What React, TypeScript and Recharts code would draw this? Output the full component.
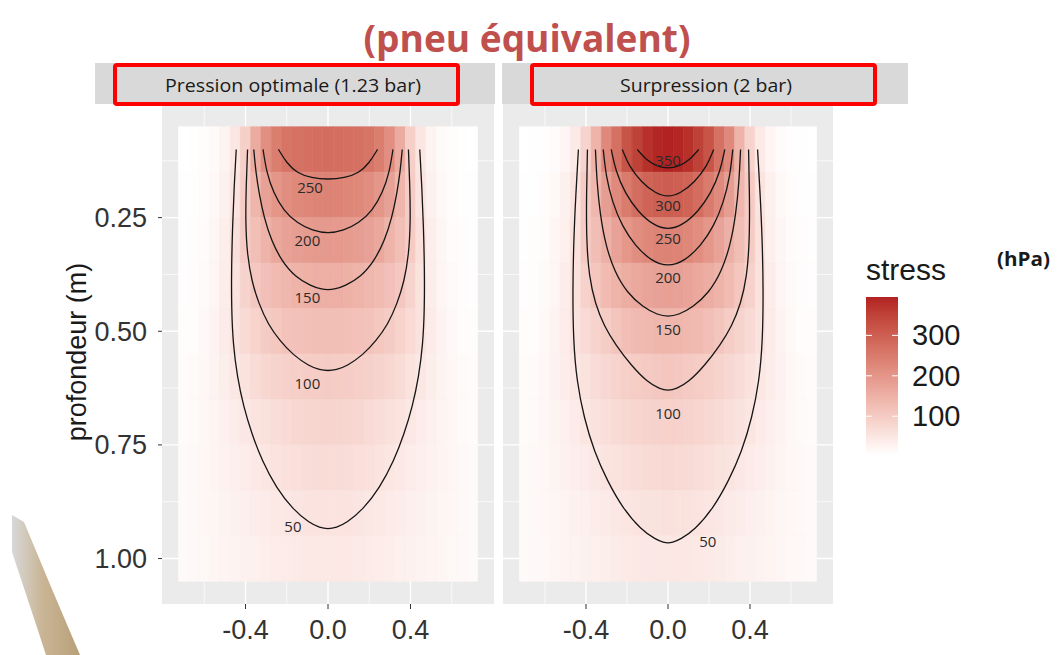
import React from "react";
import { ComposedChart, XAxis, YAxis, CartesianGrid, ReferenceArea, Line, Scatter } from "recharts";

// tile centres (m)
const xCenters = [-0.7, -0.65, -0.6, -0.55, -0.5, -0.45, -0.4, -0.35, -0.3, -0.25, -0.2, -0.15, -0.1, -0.05, 0, 0.05, 0.1, 0.15, 0.2, 0.25, 0.3, 0.35, 0.4, 0.45, 0.5, 0.55, 0.6, 0.65, 0.7];
const depths = [0.1, 0.2, 0.3, 0.4, 0.5, 0.6, 0.7, 0.8, 0.9, 1.0];

// stress (hPa), one row per depth
const stressOptimal = [
  [4, 5, 8, 14, 25, 50, 92, 160, 212, 245, 262, 268, 272, 274, 275, 274, 272, 268, 262, 245, 212, 160, 92, 50, 25, 14, 8, 5, 4],
  [5, 6, 10, 17, 30, 55, 96, 140, 178, 200, 215, 224, 230, 233, 234, 233, 230, 224, 215, 200, 178, 140, 96, 55, 30, 17, 10, 6, 5],
  [6, 8, 12, 20, 35, 62, 100, 122, 145, 168, 178, 184, 189, 192, 193, 192, 189, 184, 178, 168, 145, 122, 100, 62, 35, 20, 12, 8, 6],
  [7, 9, 13, 22, 38, 58, 85, 106, 120, 130, 138, 144, 149, 152, 153, 152, 149, 144, 138, 130, 120, 106, 85, 58, 38, 22, 13, 9, 7],
  [8, 10, 15, 25, 40, 56, 72, 86, 98, 107, 114, 118, 121, 123, 124, 123, 121, 118, 114, 107, 98, 86, 72, 56, 40, 25, 15, 10, 8],
  [11, 14, 19, 26, 36, 47, 58, 69, 78, 85, 90, 93, 96, 97, 98, 97, 96, 93, 90, 85, 78, 69, 58, 47, 36, 26, 19, 14, 11],
  [12, 14, 18, 24, 31, 38, 46, 53, 60, 67, 72, 77, 80, 82, 83, 82, 80, 77, 72, 67, 60, 53, 46, 38, 31, 24, 18, 14, 12],
  [13, 15, 18, 23, 28, 33, 38, 44, 50, 55, 60, 63, 66, 68, 69, 68, 66, 63, 60, 55, 50, 44, 38, 33, 28, 23, 18, 15, 13],
  [13, 15, 18, 21, 25, 29, 33, 37, 41, 45, 48, 51, 53, 54, 55, 54, 53, 51, 48, 45, 41, 37, 33, 29, 25, 21, 18, 15, 13],
  [13, 15, 17, 20, 23, 26, 29, 32, 35, 38, 40, 42, 44, 45, 45, 45, 44, 42, 40, 38, 35, 32, 29, 26, 23, 20, 17, 15, 13],
];

const stressOver = [
  [4, 5, 7, 12, 22, 42, 85, 145, 225, 268, 320, 350, 378, 390, 395, 390, 378, 350, 320, 268, 225, 145, 85, 42, 22, 12, 7, 5, 4],
  [5, 6, 10, 17, 30, 55, 100, 138, 185, 222, 250, 275, 292, 300, 303, 300, 292, 275, 250, 222, 185, 138, 100, 55, 30, 17, 10, 6, 5],
  [6, 8, 12, 20, 34, 60, 100, 125, 150, 176, 198, 215, 226, 233, 235, 233, 226, 215, 198, 176, 150, 125, 100, 60, 34, 20, 12, 8, 6],
  [7, 9, 13, 22, 38, 60, 88, 110, 130, 145, 156, 165, 174, 178, 180, 178, 174, 165, 156, 145, 130, 110, 88, 60, 38, 22, 13, 9, 7],
  [8, 10, 16, 26, 40, 56, 72, 85, 97, 112, 124, 131, 136, 139, 140, 139, 136, 131, 124, 112, 97, 85, 72, 56, 40, 26, 16, 10, 8],
  [11, 14, 19, 27, 37, 48, 58, 68, 77, 85, 92, 97, 102, 106, 109, 106, 102, 97, 92, 85, 77, 68, 58, 48, 37, 27, 19, 14, 11],
  [12, 14, 19, 25, 33, 41, 50, 57, 64, 70, 76, 81, 85, 88, 89, 88, 85, 81, 76, 70, 64, 57, 50, 41, 33, 25, 19, 14, 12],
  [13, 15, 18, 23, 29, 35, 41, 47, 53, 58, 63, 67, 71, 73, 74, 73, 71, 67, 63, 58, 53, 47, 41, 35, 29, 23, 18, 15, 13],
  [13, 15, 18, 21, 25, 29, 33, 38, 42, 46, 50, 53, 56, 58, 59, 58, 56, 53, 50, 46, 42, 38, 33, 29, 25, 21, 18, 15, 13],
  [13, 15, 17, 20, 23, 26, 29, 32, 36, 39, 42, 44, 46, 47, 47, 47, 46, 44, 42, 39, 36, 32, 29, 26, 23, 20, 17, 15, 13],
];

// contour lines: [x, depth]
const contoursOptimal = [
  { level: 50, pts: [[-0.445, 0.1], [-0.455, 0.18], [-0.463, 0.27], [-0.468, 0.36], [-0.468, 0.45], [-0.46, 0.53], [-0.44, 0.6], [-0.41, 0.665], [-0.37, 0.725], [-0.32, 0.785], [-0.25, 0.845], [-0.17, 0.892], [-0.09, 0.922], [-0.04, 0.932], [0, 0.935], [0.04, 0.932], [0.09, 0.922], [0.17, 0.892], [0.25, 0.845], [0.32, 0.785], [0.37, 0.725], [0.41, 0.665], [0.44, 0.6], [0.46, 0.53], [0.468, 0.45], [0.468, 0.36], [0.463, 0.27], [0.455, 0.18], [0.445, 0.1]] },
  { level: 100, pts: [[-0.39, 0.1], [-0.397, 0.18], [-0.4, 0.26], [-0.392, 0.33], [-0.37, 0.39], [-0.335, 0.44], [-0.29, 0.485], [-0.235, 0.52], [-0.17, 0.552], [-0.09, 0.577], [-0.04, 0.585], [0, 0.587], [0.04, 0.585], [0.09, 0.577], [0.17, 0.552], [0.235, 0.52], [0.29, 0.485], [0.335, 0.44], [0.37, 0.39], [0.392, 0.33], [0.4, 0.26], [0.397, 0.18], [0.39, 0.1]] },
  { level: 150, pts: [[-0.36, 0.1], [-0.35, 0.15], [-0.333, 0.2], [-0.31, 0.25], [-0.275, 0.3], [-0.225, 0.345], [-0.16, 0.38], [-0.08, 0.401], [-0.035, 0.407], [0, 0.409], [0.035, 0.407], [0.08, 0.401], [0.16, 0.38], [0.225, 0.345], [0.275, 0.3], [0.31, 0.25], [0.333, 0.2], [0.35, 0.15], [0.36, 0.1]] },
  { level: 200, pts: [[-0.315, 0.1], [-0.298, 0.15], [-0.265, 0.195], [-0.215, 0.235], [-0.15, 0.262], [-0.075, 0.279], [0, 0.285], [0.075, 0.279], [0.15, 0.262], [0.215, 0.235], [0.265, 0.195], [0.298, 0.15], [0.315, 0.1]] },
  { level: 250, pts: [[-0.24, 0.1], [-0.2, 0.13], [-0.15, 0.152], [-0.08, 0.163], [0, 0.166], [0.08, 0.163], [0.15, 0.152], [0.2, 0.13], [0.24, 0.1]] },
];

const contoursOver = [
  { level: 50, pts: [[-0.437, 0.1], [-0.45, 0.2], [-0.46, 0.3], [-0.465, 0.41], [-0.462, 0.52], [-0.445, 0.61], [-0.41, 0.69], [-0.36, 0.765], [-0.295, 0.83], [-0.22, 0.89], [-0.13, 0.937], [-0.06, 0.958], [-0.02, 0.965], [0, 0.966], [0.02, 0.965], [0.06, 0.958], [0.13, 0.937], [0.22, 0.89], [0.295, 0.83], [0.36, 0.765], [0.41, 0.69], [0.445, 0.61], [0.462, 0.52], [0.465, 0.41], [0.46, 0.3], [0.45, 0.2], [0.437, 0.1]] },
  { level: 100, pts: [[-0.393, 0.1], [-0.398, 0.2], [-0.398, 0.3], [-0.385, 0.38], [-0.355, 0.44], [-0.31, 0.49], [-0.255, 0.53], [-0.18, 0.575], [-0.1, 0.612], [-0.04, 0.627], [0, 0.631], [0.04, 0.627], [0.1, 0.612], [0.18, 0.575], [0.255, 0.53], [0.31, 0.49], [0.355, 0.44], [0.385, 0.38], [0.398, 0.3], [0.398, 0.2], [0.393, 0.1]] },
  { level: 150, pts: [[-0.354, 0.1], [-0.347, 0.17], [-0.332, 0.24], [-0.305, 0.31], [-0.26, 0.37], [-0.2, 0.415], [-0.12, 0.448], [-0.05, 0.464], [0, 0.468], [0.05, 0.464], [0.12, 0.448], [0.2, 0.415], [0.26, 0.37], [0.305, 0.31], [0.332, 0.24], [0.347, 0.17], [0.354, 0.1]] },
  { level: 200, pts: [[-0.316, 0.1], [-0.302, 0.16], [-0.272, 0.215], [-0.225, 0.268], [-0.16, 0.312], [-0.08, 0.346], [0, 0.358], [0.08, 0.346], [0.16, 0.312], [0.225, 0.268], [0.272, 0.215], [0.302, 0.16], [0.316, 0.1]] },
  { level: 250, pts: [[-0.277, 0.1], [-0.255, 0.148], [-0.21, 0.196], [-0.145, 0.238], [-0.07, 0.267], [0, 0.277], [0.07, 0.267], [0.145, 0.238], [0.21, 0.196], [0.255, 0.148], [0.277, 0.1]] },
  { level: 300, pts: [[-0.223, 0.1], [-0.19, 0.137], [-0.13, 0.172], [-0.06, 0.197], [0, 0.205], [0.06, 0.197], [0.13, 0.172], [0.19, 0.137], [0.223, 0.1]] },
  { level: 350, pts: [[-0.15, 0.1], [-0.105, 0.124], [-0.05, 0.138], [0, 0.142], [0.05, 0.138], [0.105, 0.124], [0.15, 0.1]] },
];

const labelsOptimal = [
  { x: -0.087, d: 0.182, level: 250 },
  { x: -0.1, d: 0.3, level: 200 },
  { x: -0.1, d: 0.425, level: 150 },
  { x: -0.1, d: 0.613, level: 100 },
  { x: -0.17, d: 0.928, level: 50 },
];
const labelsOver = [
  { x: 0, d: 0.123, level: 350 },
  { x: 0, d: 0.222, level: 300 },
  { x: 0, d: 0.294, level: 250 },
  { x: 0, d: 0.381, level: 200 },
  { x: 0, d: 0.495, level: 150 },
  { x: 0, d: 0.679, level: 100 },
  { x: 0.194, d: 0.961, level: 50 },
];

const xTicks = [-0.4, 0, 0.4];
const xMinor = [-0.6, -0.2, 0.2, 0.6];
const yTicks = [0.25, 0.5, 0.75, 1.0];
const yMinor = [0.125, 0.375, 0.625, 0.875];
const legendTicks = [100, 200, 300];

const allValues = [...stressOptimal.flat(), ...stressOver.flat()];
const vMin = Math.min(...allValues);
const vMax = Math.max(...allValues);

// white -> firebrick, interpolated in Lab like ggplot
const LOW = [255, 255, 255];
const HIGH = [178, 34, 34];
function toLab(rgb: number[]) {
  const [r, g, b] = rgb.map((c) => {
    c /= 255;
    return c <= 0.04045 ? c / 12.92 : Math.pow((c + 0.055) / 1.055, 2.4);
  });
  const X = (0.4124 * r + 0.3576 * g + 0.1805 * b) / 0.95047;
  const Y = 0.2126 * r + 0.7152 * g + 0.0722 * b;
  const Z = (0.0193 * r + 0.1192 * g + 0.9505 * b) / 1.08883;
  const f = (t: number) => (t > 0.008856 ? Math.cbrt(t) : 7.787 * t + 16 / 116);
  const fx = f(X), fy = f(Y), fz = f(Z);
  return [116 * fy - 16, 500 * (fx - fy), 200 * (fy - fz)];
}
function fromLab([L, a, b]: number[]) {
  const fy = (L + 16) / 116, fx = fy + a / 500, fz = fy - b / 200;
  const inv = (f: number) => (f * f * f > 0.008856 ? f * f * f : (f - 16 / 116) / 7.787);
  const X = inv(fx) * 0.95047, Y = inv(fy), Z = inv(fz) * 1.08883;
  const lin = [3.2406 * X - 1.5372 * Y - 0.4986 * Z, -0.9689 * X + 1.8758 * Y + 0.0415 * Z, 0.0557 * X - 0.204 * Y + 1.057 * Z];
  return lin.map((c) => {
    const v = c <= 0.0031308 ? 12.92 * c : 1.055 * Math.pow(c, 1 / 2.4) - 0.055;
    return Math.round(Math.max(0, Math.min(1, v)) * 255);
  });
}
const labLow = toLab(LOW);
const labHigh = toLab(HIGH);
function fillFor(v: number) {
  const t = Math.max(0, Math.min(1, (v - vMin) / (vMax - vMin)));
  const [r, g, b] = fromLab(labLow.map((l, i) => l + (labHigh[i] - l) * t));
  return `rgb(${r},${g},${b})`;
}

const tickFont = { fill: "#333", fontSize: 27, fontFamily: "'Liberation Sans', Arial, sans-serif" };

function Panel({ grid, contours, labels, showY, width, marginRight }: any) {
  const halfX = (xCenters[1] - xCenters[0]) / 2;
  const halfY = (depths[1] - depths[0]) / 2;
  return (
    <ComposedChart width={width} height={655} margin={{ top: 104, right: marginRight, bottom: 0, left: 0 }}>
      <CartesianGrid fill="#ebebeb" stroke="#ffffff" strokeWidth={0.7} verticalValues={xMinor} horizontalValues={yMinor} />
      <CartesianGrid stroke="#ffffff" strokeWidth={1.4} verticalValues={xTicks} horizontalValues={yTicks} />
      <XAxis
        type="number"
        dataKey="x"
        domain={[-0.805, 0.805]}
        ticks={xTicks}
        allowDataOverflow
        tickFormatter={(v: number) => v.toFixed(1)}
        tick={tickFont}
        tickLine={{ stroke: "#333" }}
        axisLine={false}
        tickSize={5}
        tickMargin={11}
        height={51}
      />
      <YAxis
        type="number"
        dataKey="d"
        reversed
        domain={[0, 1.1]}
        ticks={yTicks}
        allowDataOverflow
        hide={!showY}
        width={162}
        tickFormatter={(v: number) => v.toFixed(2)}
        tick={tickFont}
        tickLine={{ stroke: "#333" }}
        axisLine={false}
        tickSize={4}
        tickMargin={11}
      />
      {grid.map((row: number[], ri: number) =>
        row.map((v: number, ci: number) => {
          const c = fillFor(v);
          return (
            <ReferenceArea
              key={`t-${ri}-${ci}`}
              x1={xCenters[ci] - halfX}
              x2={xCenters[ci] + halfX}
              y1={depths[ri] - halfY}
              y2={depths[ri] + halfY}
              fill={c}
              fillOpacity={1}
              stroke={c}
              strokeWidth={0.6}
            />
          );
        })
      )}
      {contours.map((c: any) => (
        <Line
          key={`c-${c.level}`}
          data={c.pts.map(([x, d]: number[]) => ({ x, d }))}
          dataKey="d"
          type="basis"
          dot={false}
          activeDot={false}
          stroke="#151515"
          strokeWidth={1.3}
          isAnimationActive={false}
        />
      ))}
      <Scatter
        data={labels}
        dataKey="d"
        isAnimationActive={false}
        shape={(p: any) => (
          <text
            x={p.cx}
            y={p.cy}
            textAnchor="middle"
            dominantBaseline="central"
            fontSize={15}
            fontFamily="'Open Sans', sans-serif"
            fill="#2b2b2b"
          >
            {p.payload.level}
          </text>
        )}
      />
    </ComposedChart>
  );
}

export default function App() {
  const legendTop = 297;
  const legendH = 158;
  const legendY = (v: number) => legendTop + legendH - ((v - vMin) / (vMax - vMin)) * legendH;
  const stops = Array.from({ length: 11 }, (_, i) => i / 10);

  return (
    <div style={{ position: "absolute", left: 0, top: 0, width: 1057, height: 655, background: "#fff", overflow: "hidden" }}>
      <div style={{ position: "absolute", left: 0, top: 0 }}>
        <Panel grid={stressOptimal} contours={contoursOptimal} labels={labelsOptimal} showY width={500} marginRight={6} />
      </div>
      <div style={{ position: "absolute", left: 503, top: 0 }}>
        <Panel grid={stressOver} contours={contoursOver} labels={labelsOver} showY={false} width={340} marginRight={10} />
      </div>

      <svg width={1057} height={655} style={{ position: "absolute", left: 0, top: 0, pointerEvents: "none" }}>
        <defs>
          <linearGradient id="stressGrad" x1="0" y1="1" x2="0" y2="0">
            {stops.map((t) => (
              <stop key={t} offset={t} stopColor={fillFor(vMin + t * (vMax - vMin))} />
            ))}
          </linearGradient>
          <linearGradient id="swoosh" x1="0" y1="0" x2="1" y2="0">
            <stop offset="0" stopColor="#d8d8d8" />
            <stop offset="0.45" stopColor="#c9b595" />
            <stop offset="1" stopColor="#b89f78" />
          </linearGradient>
        </defs>

        {/* slide decoration */}
        <path d="M12,515 L24,522 Q52,590 80,655 L46,655 Q28,600 12,552 Z" fill="url(#swoosh)" />

        <text x={527} y={52} textAnchor="middle" fontSize={38} fontWeight="bold" fontFamily="'Open Sans', sans-serif" fill="#c0504d" textLength={327} lengthAdjust="spacingAndGlyphs">
          (pneu équivalent)
        </text>

        {/* facet strips */}
        <rect x={95} y={63} width={400} height={41} fill="#d9d9d9" />
        <rect x={502} y={63} width={406} height={41} fill="#d9d9d9" />
        <text x={293} y={85} textAnchor="middle" dominantBaseline="central" fontSize={18} fontFamily="'Liberation Sans Narrow', 'Open Sans', sans-serif" fill="#1a1a1a" textLength={256} lengthAdjust="spacingAndGlyphs">
          Pression optimale (1.23 bar)
        </text>
        <text x={706} y={85} textAnchor="middle" dominantBaseline="central" fontSize={18} fontFamily="'Liberation Sans Narrow', 'Open Sans', sans-serif" fill="#1a1a1a" textLength={172} lengthAdjust="spacingAndGlyphs">
          Surpression (2 bar)
        </text>
        <rect x={115} y={65} width={343} height={39} rx={2} fill="none" stroke="#ff0000" strokeWidth={4} />
        <rect x={532} y={65} width={343} height={39} rx={2} fill="none" stroke="#ff0000" strokeWidth={4} />

        {/* axis title */}
        <text x={77} y={352} transform="rotate(-90 77 352)" textAnchor="middle" dominantBaseline="central" fontSize={27} fontFamily="'Liberation Sans', Arial, sans-serif" fill="#1a1a1a">
          profondeur (m)
        </text>

        {/* colour legend */}
        <text x={866} y={280} fontSize={30} fontFamily="'Liberation Sans', Arial, sans-serif" fill="#1a1a1a">
          stress
        </text>
        <text x={997} y={266} fontSize={19} fontWeight="bold" fontFamily="'Open Sans', sans-serif" fill="#1a1a1a" textLength={53} lengthAdjust="spacingAndGlyphs">
          (hPa)
        </text>
        <rect x={866} y={legendTop} width={32} height={legendH} fill="url(#stressGrad)" />
        {legendTicks.map((v) => (
          <g key={v}>
            <line x1={866} x2={872} y1={legendY(v)} y2={legendY(v)} stroke="#fff" strokeWidth={1} />
            <line x1={892} x2={898} y1={legendY(v)} y2={legendY(v)} stroke="#fff" strokeWidth={1} />
            <text x={912} y={legendY(v)} dominantBaseline="central" fontSize={29} fontFamily="'Liberation Sans', Arial, sans-serif" fill="#1a1a1a">
              {v}
            </text>
          </g>
        ))}
      </svg>
    </div>
  );
}
